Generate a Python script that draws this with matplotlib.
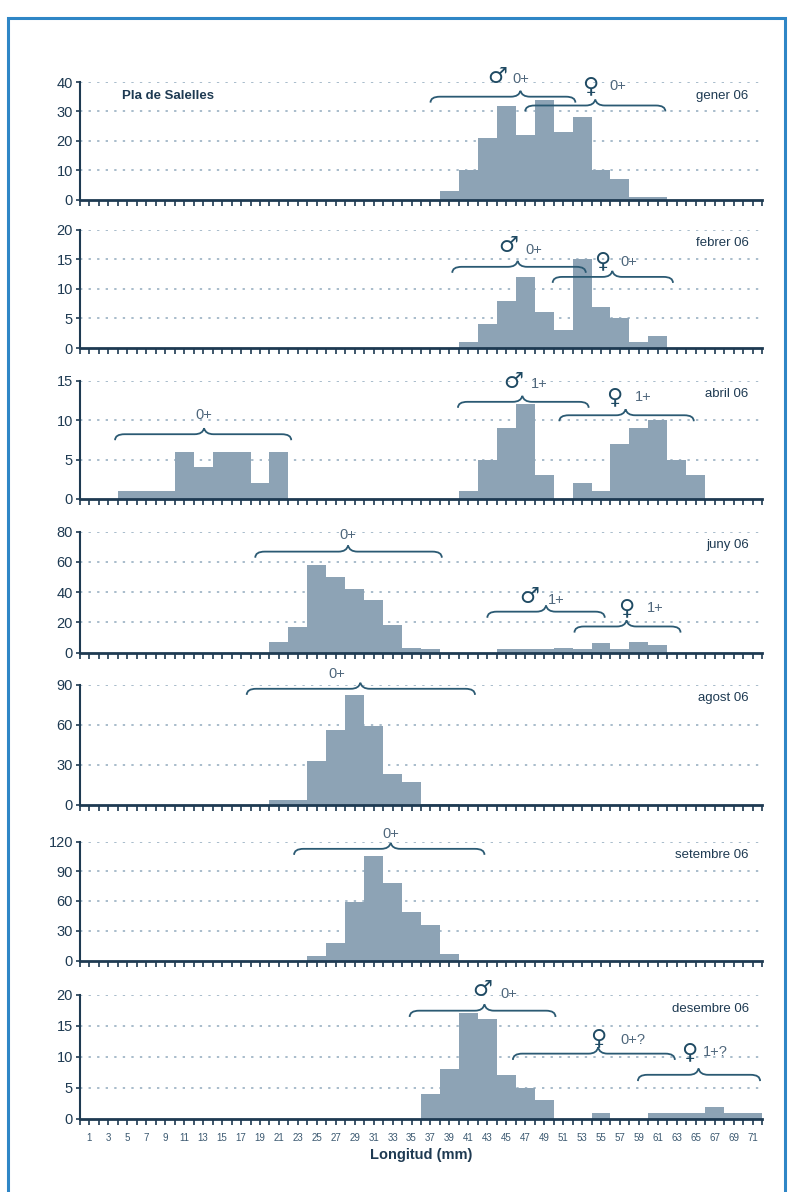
import matplotlib
matplotlib.use("Agg")
import matplotlib.pyplot as plt
from matplotlib.path import Path
from matplotlib.patches import PathPatch, Rectangle

plt.rcParams['font.family'] = ['Liberation Sans', 'DejaVu Sans']

# ---------------- data ----------------
bin_centers = list(range(1, 72, 2))          # 2-mm length classes (mm)
tick_labels = [str(v) for v in range(1, 72, 2)]
months = ["gener 06", "febrer 06", "abril 06", "juny 06", "agost 06", "setembre 06", "desembre 06"]

gener = [0]*19 + [3, 10, 21, 32, 22, 34, 23, 28, 10, 7, 1, 1] + [0]*5
febrer = [0]*20 + [1, 4, 8, 12, 6, 3, 15, 7, 5, 1, 2] + [0]*5
abril = [0, 0, 1, 1, 1, 6, 4, 6, 6, 2, 6] + [0]*9 + [1, 5, 9, 12, 3, 0, 2, 1, 7, 9, 10, 5, 3] + [0]*3
juny = [0]*10 + [7, 17, 58, 50, 42, 35, 18, 3, 2] + [0]*3 + [2, 2, 2, 3, 2, 6, 2, 7, 5] + [0]*5
agost = [0]*10 + [4, 4, 33, 56, 82, 59, 23, 17, 1, 1] + [0]*16
setembre = [0]*12 + [5, 18, 59, 105, 78, 49, 36, 7] + [0]*16
desembre = [0]*18 + [4, 8, 17, 16, 7, 5, 3] + [0, 0, 1, 0, 0] + [1, 1, 1, 2, 1, 1]

series = [gener, febrer, abril, juny, agost, setembre, desembre]
y_max = [40, 20, 15, 80, 90, 120, 20]
y_step = [10, 5, 5, 20, 30, 30, 5]

# ---------------- style ----------------
BAR = '#8da3b5'
AXC = '#1e3a52'
TXT = '#1e3a52'
GRID = '#a8bccb'
BRC = '#2b5a73'
LBL = '#4f677c'

W, H = 793, 1192
fig = plt.figure(figsize=(W/100, H/100), dpi=100)

# panel pixel extents (top, bottom)
panels_px = [(82, 199.5), (229.5, 348), (380.5, 499), (531.5, 652.5),
             (684.5, 805), (841.5, 960.5), (994.5, 1119)]
left_px, right_px = 80, 762

# blue frame
fig.add_artist(Rectangle((8/W, -0.02), (785-8)/W, 1 - 18/H + 0.02,
                         transform=fig.transFigure, fill=False,
                         edgecolor='#2f86c6', linewidth=2.2))


def brace(ax, x0, x1, xm, y, ymax, drop_px=6, tip_px=6):
    u = ymax / 119.0
    cw = 1.0
    d = drop_px * u
    t = tip_px * u
    verts = [(x0, y - d), (x0, y), (x0 + cw, y),
             (xm - cw, y), (xm - 0.15, y), (xm, y + t),
             (xm + 0.15, y), (xm + cw, y),
             (x1 - cw, y), (x1, y), (x1, y - d)]
    codes = [Path.MOVETO, Path.CURVE3, Path.CURVE3,
             Path.LINETO, Path.CURVE3, Path.CURVE3,
             Path.CURVE3, Path.CURVE3,
             Path.LINETO, Path.CURVE3, Path.CURVE3]
    ax.add_patch(PathPatch(Path(verts, codes), fill=False, edgecolor=BRC,
                           linewidth=1.3, clip_on=False, zorder=5))


def sym(ax, x, y, s, size=16):
    ax.text(x, y, s, ha='center', va='center', fontsize=size, color='#1f4a63',
            family=['DejaVu Sans'], clip_on=False, zorder=6)


def lab(ax, x, y, s, size=10.5):
    ax.text(x, y, s, ha='left', va='center', fontsize=size, color=LBL,
            clip_on=False, zorder=6)


axes = []
for i, (top, bot) in enumerate(panels_px):
    ax = fig.add_axes([left_px/W, 1 - bot/H, (right_px-left_px)/W, (bot-top)/H])
    axes.append(ax)
    ax.bar(bin_centers, series[i], width=2.0, color=BAR, edgecolor='none', zorder=2)
    ax.set_xlim(0, 72)
    ax.set_ylim(0, y_max[i])
    yt = list(range(0, y_max[i] + 1, y_step[i]))
    ax.set_yticks(yt)
    ax.set_yticklabels([str(v) for v in yt], fontsize=10.5, color=TXT)
    for v in yt[1:]:
        ax.axhline(v, color=GRID, linestyle=(0, (1.2, 3.2)), linewidth=1.4, zorder=1)
    ax.set_xticks(bin_centers)
    ax.set_xticks(list(range(0, 73, 2)), minor=True)
    ax.tick_params(axis='x', which='both', direction='out', length=4, width=1.2,
                   color=AXC, labelbottom=False)
    ax.tick_params(axis='y', direction='out', length=3, width=1.2, color=AXC, pad=2)
    for s in ['top', 'right']:
        ax.spines[s].set_visible(False)
    ax.spines['left'].set_color(AXC)
    ax.spines['left'].set_linewidth(1.5)
    ax.spines['bottom'].set_color(AXC)
    ax.spines['bottom'].set_linewidth(2.0)
    ax.spines['bottom'].set_zorder(4)
    ax.text(70.6, 0.885, months[i], transform=ax.get_xaxis_transform(),
            ha='right', va='center', fontsize=9.5, color=TXT)

# bottom panel x labels
axb = axes[-1]
axb.set_xticklabels(tick_labels, fontsize=7, color='#3a5870')
axb.tick_params(axis='x', which='major', pad=6, labelbottom=True)
axb.set_xlabel('Longitud (mm)', fontsize=10.5, fontweight='bold', color=TXT, labelpad=4)

# ---------------- annotations ----------------
a = axes[0]
a.text(4.4, 0.885, 'Pla de Salelles', transform=a.get_xaxis_transform(),
       ha='left', va='center', fontsize=9.5, fontweight='bold', color=TXT)
brace(a, 37.0, 52.3, 46.5, 35.0, 40)
sym(a, 44.0, 41.8, '♂'); lab(a, 45.6, 41.0, '0+')
brace(a, 47.0, 61.8, 54.4, 32.0, 40)
sym(a, 53.9, 38.5, '♀'); lab(a, 55.9, 38.8, '0+')

a = axes[1]
brace(a, 39.3, 53.4, 46.2, 13.7, 20)
sym(a, 45.2, 17.2, '♂'); lab(a, 47.0, 16.5, '0+')
brace(a, 49.9, 62.6, 56.2, 12.0, 20)
sym(a, 55.1, 14.6, '♀'); lab(a, 57.0, 14.5, '0+')

a = axes[2]
brace(a, 3.7, 22.3, 13.1, 8.2, 15)
lab(a, 12.2, 10.6, '0+')
brace(a, 39.9, 53.7, 46.7, 12.3, 15)
sym(a, 45.7, 14.8, '♂'); lab(a, 47.6, 14.5, '1+')
brace(a, 50.6, 64.8, 57.6, 10.6, 15)
sym(a, 56.4, 12.9, '♀'); lab(a, 58.6, 12.9, '1+')

a = axes[3]
brace(a, 18.5, 38.2, 28.3, 66.7, 80)
lab(a, 27.4, 77.5, '0+')
brace(a, 43.0, 55.4, 49.2, 27.0, 80)
sym(a, 47.4, 36.6, '♂'); lab(a, 49.4, 34.8, '1+')
brace(a, 52.2, 63.4, 57.7, 17.2, 80)
sym(a, 57.7, 29.3, '♀'); lab(a, 59.8, 29.3, '1+')

a = axes[4]
brace(a, 17.6, 41.7, 29.6, 86.8, 90)
lab(a, 26.2, 97.5, '0+')

a = axes[5]
brace(a, 22.6, 42.7, 32.8, 112.6, 120)
lab(a, 31.9, 128.0, '0+')

a = axes[6]
brace(a, 34.8, 50.2, 42.7, 17.4, 20)
sym(a, 42.5, 20.8, '♂'); lab(a, 44.4, 20.1, '0+')
brace(a, 45.7, 62.8, 54.7, 10.5, 20)
sym(a, 54.7, 13.0, '♀'); lab(a, 57.0, 12.7, '0+?')
brace(a, 58.9, 71.8, 65.3, 7.1, 20)
sym(a, 64.3, 10.7, '♀'); lab(a, 65.8, 10.8, '1+?')

fig.savefig('out.png', dpi=100)
